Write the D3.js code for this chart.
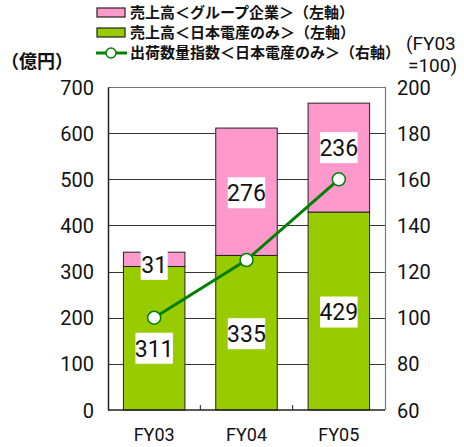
<!DOCTYPE html>
<html>
<head>
<meta charset="utf-8">
<script src="https://cdn.jsdelivr.net/npm/d3@7"></script>
<style>
	body{margin:0;background:#fff;}
	svg text{font-family:"Roboto","Liberation Sans",sans-serif;}
	svg text.jp{font-family:"Noto Sans CJK JP",sans-serif;font-weight:bold;}
</style>
</head>
<body>
<div id="chart"></div>
<script>
//data
const years = ["FY03", "FY04", "FY05"];
const salesNidec = [311, 335, 429];
const salesGroup = [31, 276, 236];
const shipIndex = [100, 125, 160];
const leftTicks = [0, 100, 200, 300, 400, 500, 600, 700];
const rightTicks = [60, 80, 100, 120, 140, 160, 180, 200];
const legendText = ["売上高＜グループ企業＞（左軸）", "売上高＜日本電産のみ＞（左軸）", "出荷数量指数＜日本電産のみ＞（右軸）"];

//sizing
let width = 464, height = 447;
let margin = {top:87, right:79, bottom:37, left:108};

let svg = d3.select("#chart")
	.append("svg")
	.attr("width", width)
	.attr("height", height);

const pink = "#ff99cc", green = "#99cc00", lineColor = "#008000";

//scales
const xScale = d3.scaleBand()
	.domain(years)
	.range([margin.left, width-margin.right])
	.paddingInner(0.334)
	.paddingOuter(0.167);

const yLeft = d3.scaleLinear()
	.domain([0, 700])
	.range([height-margin.bottom, margin.top]);

const yRight = d3.scaleLinear()
	.domain([60, 200])
	.range([height-margin.bottom, margin.top]);

//gridlines
svg.append("g")
	.selectAll("line")
	.data(leftTicks.slice(1, -1))
	.enter()
	.append("line")
	.attr("x1", margin.left)
	.attr("x2", width-margin.right)
	.attr("y1", d=>Math.round(yLeft(d))+0.5)
	.attr("y2", d=>Math.round(yLeft(d))+0.5)
	.attr("stroke", "#333")
	.attr("stroke-width", 1);

//plot border top & right
svg.append("path")
	.attr("d", `M${margin.left},${margin.top+0.5}H${width-margin.right+0.5}V${height-margin.bottom}`)
	.attr("fill", "none")
	.attr("stroke", "#777")
	.attr("stroke-width", 1.2);

//bars
let bars = svg.append("g");
years.forEach((y,i)=>{
	bars.append("rect")
		.attr("x", xScale(y))
		.attr("width", xScale.bandwidth())
		.attr("y", yLeft(salesNidec[i]))
		.attr("height", yLeft(0)-yLeft(salesNidec[i]))
		.attr("fill", green)
		.attr("stroke", "#222")
		.attr("stroke-width", 1);
	bars.append("rect")
		.attr("x", xScale(y))
		.attr("width", xScale.bandwidth())
		.attr("y", yLeft(salesNidec[i]+salesGroup[i]))
		.attr("height", yLeft(salesNidec[i])-yLeft(salesNidec[i]+salesGroup[i]))
		.attr("fill", pink)
		.attr("stroke", "#222")
		.attr("stroke-width", 1);
});

//left axis
const yAxisL = d3.axisLeft(yLeft).tickValues(leftTicks).tickSize(0).tickPadding(14);
let gL = svg.append("g")
	.attr("transform", `translate(${margin.left},0)`)
	.call(yAxisL);
gL.select(".domain").attr("stroke", "#222").attr("stroke-width", 1.5);
gL.selectAll("text").attr("font-size", 20).attr("fill", "#111").attr("dy", "0.35em");

//right axis
const yAxisR = d3.axisRight(yRight).tickValues(rightTicks).tickSize(0).tickPadding(12);
let gR = svg.append("g")
	.attr("transform", `translate(${width-margin.right},0)`)
	.call(yAxisR);
gR.select(".domain").remove();
gR.selectAll("text").attr("font-size", 20).attr("fill", "#111").attr("dy", "0.35em");

//bottom axis
let base = yLeft(0);
svg.append("line")
	.attr("x1", margin.left).attr("x2", width-margin.right)
	.attr("y1", base).attr("y2", base)
	.attr("stroke", "#222").attr("stroke-width", 1.5);
svg.append("g")
	.selectAll("line")
	.data(years.slice(1))
	.enter()
	.append("line")
	.attr("x1", d=>xScale(d)-xScale.step()*xScale.paddingInner()/2)
	.attr("x2", d=>xScale(d)-xScale.step()*xScale.paddingInner()/2)
	.attr("y1", base).attr("y2", base-5)
	.attr("stroke", "#222");
svg.append("g")
	.selectAll("text")
	.data(years)
	.enter()
	.append("text")
	.attr("x", d=>xScale(d)+xScale.bandwidth()/2)
	.attr("y", base+25)
	.attr("dy", "0.35em")
	.attr("text-anchor", "middle")
	.attr("font-size", 18)
	.attr("fill", "#111")
	.text(d=>d);

//line
let line = d3.line()
	.x((d,i)=>xScale(years[i])+xScale.bandwidth()/2)
	.y(d=>yRight(d));

svg.append("path")
	.datum(shipIndex)
	.attr("d", line)
	.attr("fill", "none")
	.attr("stroke", lineColor)
	.attr("stroke-width", 3);

//value labels (white boxes)
function label(cx, cy, txt){
	let w = txt.length*10.5+6, h = 31;
	svg.append("rect")
		.attr("x", cx-w/2).attr("y", cy-h/2)
		.attr("width", w).attr("height", h)
		.attr("fill", "#fff");
	svg.append("text")
		.attr("x", cx).attr("y", cy)
		.attr("dy", "0.36em")
		.attr("text-anchor", "middle")
		.attr("font-size", 23)
		.attr("fill", "#111")
		.text(txt);
}
const nudgeG = [10, 1, 1];
const nudgeP = [5, 1, -10];
years.forEach((y,i)=>{
	let cx = xScale(y)+xScale.bandwidth()/2;
	label(cx, (yLeft(0)+yLeft(salesNidec[i]))/2+nudgeG[i], String(salesNidec[i]));
	label(cx, (yLeft(salesNidec[i])+yLeft(salesNidec[i]+salesGroup[i]))/2+nudgeP[i], String(salesGroup[i]));
});

//markers
svg.append("g")
	.selectAll("circle")
	.data(shipIndex)
	.enter()
	.append("circle")
	.attr("cx", (d,i)=>xScale(years[i])+xScale.bandwidth()/2)
	.attr("cy", d=>yRight(d))
	.attr("r", 6.5)
	.attr("fill", "#fff")
	.attr("stroke", lineColor)
	.attr("stroke-width", 1.5);

//legend
let lg = svg.append("g");
[pink, green].forEach((c,i)=>{
	lg.append("rect")
		.attr("x", 97).attr("y", 8+i*20)
		.attr("width", 28).attr("height", 9)
		.attr("fill", c)
		.attr("stroke", "#222")
		.attr("stroke-width", 1.2);
});
lg.append("line")
	.attr("x1", 96).attr("x2", 127)
	.attr("y1", 53).attr("y2", 53)
	.attr("stroke", lineColor).attr("stroke-width", 3);
lg.append("circle")
	.attr("cx", 111).attr("cy", 53).attr("r", 5)
	.attr("fill", "#fff").attr("stroke", lineColor).attr("stroke-width", 1.5);
legendText.forEach((t,i)=>{
	lg.append("text")
		.attr("class", "jp")
		.attr("x", 130).attr("y", 13+i*20)
		.attr("dy", "0.36em")
		.attr("font-size", 15)
		.attr("fill", "#111")
		.text(t);
});

//axis titles
svg.append("text")
	.attr("class", "jp")
	.attr("x", 1).attr("y", 62)
	.attr("dy", "0.36em")
	.attr("font-size", 18)
	.attr("fill", "#111")
	.text("（億円）");
svg.append("text")
	.attr("x", 406).attr("y", 43)
	.attr("dy", "0.36em")
	.attr("font-size", 19)
	.attr("fill", "#111")
	.text("(FY03");
svg.append("text")
	.attr("x", 408).attr("y", 65)
	.attr("dy", "0.36em")
	.attr("font-size", 19)
	.attr("fill", "#111")
	.text("=100)");
</script>
</body>
</html>
